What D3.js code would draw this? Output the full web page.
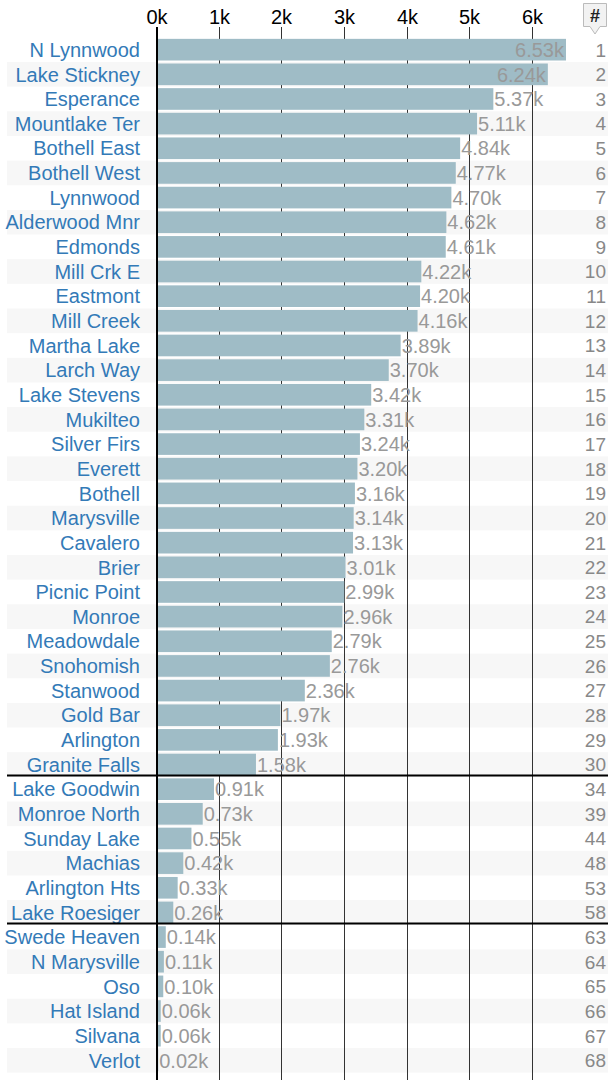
<!DOCTYPE html>
<html>
<head>
<meta charset="utf-8">
<script src="https://cdn.jsdelivr.net/npm/d3@7"></script>
<style>
  body { margin: 0; background: #fff; }
  text { font-family: "Liberation Sans", Arial, sans-serif; }
</style>
</head>
<body>
<div id="chart"></div>
<script>
// places, ranks and values (thousands)
var names = ["N Lynnwood", "Lake Stickney", "Esperance", "Mountlake Ter", "Bothell East",
  "Bothell West", "Lynnwood", "Alderwood Mnr", "Edmonds", "Mill Crk E", "Eastmont",
  "Mill Creek", "Martha Lake", "Larch Way", "Lake Stevens", "Mukilteo", "Silver Firs",
  "Everett", "Bothell", "Marysville", "Cavalero", "Brier", "Picnic Point", "Monroe",
  "Meadowdale", "Snohomish", "Stanwood", "Gold Bar", "Arlington", "Granite Falls",
  "Lake Goodwin", "Monroe North", "Sunday Lake", "Machias", "Arlington Hts", "Lake Roesiger",
  "Swede Heaven", "N Marysville", "Oso", "Hat Island", "Silvana", "Verlot"];
var ranks = [1, 2, 3, 4, 5, 6, 7, 8, 9, 10, 11, 12, 13, 14, 15, 16, 17, 18, 19, 20,
  21, 22, 23, 24, 25, 26, 27, 28, 29, 30, 34, 39, 44, 48, 53, 58, 63, 64, 65, 66, 67, 68];
var values = [6.53, 6.24, 5.37, 5.11, 4.84, 4.77, 4.70, 4.62, 4.61, 4.22, 4.20, 4.16,
  3.89, 3.70, 3.42, 3.31, 3.24, 3.20, 3.16, 3.14, 3.13, 3.01, 2.99, 2.96, 2.79, 2.76,
  2.36, 1.97, 1.93, 1.58, 0.91, 0.73, 0.55, 0.42, 0.33, 0.26, 0.14, 0.11, 0.10, 0.06,
  0.06, 0.02];
var tickValues = [0, 1, 2, 3, 4, 5, 6];
// rows after which a break line is drawn
var breakAfter = ["Granite Falls", "Lake Roesiger"];

var svgWidth = 608;
var svgHeight = 1080;

var data = names.map(function(n, i) {
  return { name: n, rank: ranks[i], value: values[i], idx: i };
});

var svg = d3.select("#chart")
  .append("svg")
  .attr("width", svgWidth)
  .attr("height", svgHeight);

var rowTop = 37.35;
var rowH = 24.65;

var x = d3.scaleLinear()
  .domain([0, 6.53])
  .range([157, 566]);

var y = d3.scaleBand()
  .domain(names)
  .range([rowTop, rowTop + rowH * names.length])
  .padding(0);

// zebra stripes
svg.append("g").selectAll("rect")
  .data(data.filter(d => d.idx % 2 === 1))
  .enter()
  .append("rect")
  .attr("x", 7)
  .attr("y", d => y(d.name))
  .attr("width", svgWidth - 7)
  .attr("height", y.bandwidth())
  .attr("fill", "#f7f7f7");

// grid lines + top axis labels
var axis = d3.axisTop(x)
  .tickValues(tickValues)
  .tickFormat(d => d + "k")
  .tickSize(-(svgHeight - 27))
  .tickPadding(5);

var axisG = svg.append("g")
  .attr("transform", "translate(0,27)")
  .call(axis);

axisG.select(".domain").remove();
// snap grid lines to whole pixels so they stay crisp
axisG.selectAll(".tick")
  .attr("transform", d => d === 0 ? "translate(157,0)" : `translate(${Math.round(x(d)) - 0.5},0)`);
axisG.selectAll(".tick line")
  .attr("stroke", d => d === 0 ? "#000" : "#333")
  .attr("stroke-width", d => d === 0 ? 2 : 1);
axisG.selectAll(".tick text")
  .attr("fill", "#000")
  .attr("font-size", "20px")
  .attr("dy", "0.1em");

// bars
svg.append("g").selectAll("rect")
  .data(data)
  .enter()
  .append("rect")
  .attr("x", x(0) + 1)
  .attr("y", d => y(d.name) + 1.5)
  .attr("width", d => Math.max(0, x(d.value) - x(0) - 1))
  .attr("height", y.bandwidth() - 3)
  .attr("fill", "#9fbcc6");

// value labels
svg.append("g").selectAll("text")
  .data(data)
  .enter()
  .append("text")
  .attr("x", d => x(d.value) + 50 > 575 ? x(d.value) - 2 : x(d.value) + 1)
  .attr("y", d => y(d.name) + y.bandwidth() / 2)
  .attr("dy", "0.36em")
  .attr("text-anchor", d => x(d.value) + 50 > 575 ? "end" : "start")
  .attr("font-size", "20px")
  .attr("fill", "#999")
  .text(d => d.value.toFixed(2) + "k");

// place names
svg.append("g").selectAll("text")
  .data(data)
  .enter()
  .append("text")
  .attr("x", 140)
  .attr("y", d => y(d.name) + y.bandwidth() / 2)
  .attr("dy", "0.36em")
  .attr("text-anchor", "end")
  .attr("font-size", "20px")
  .attr("fill", "#337ab7")
  .text(d => d.name);

// ranks
svg.append("g").selectAll("text")
  .data(data)
  .enter()
  .append("text")
  .attr("x", 606)
  .attr("y", d => y(d.name) + y.bandwidth() / 2)
  .attr("dy", "0.36em")
  .attr("text-anchor", "end")
  .attr("font-size", "19px")
  .attr("fill", "#888")
  .text(d => d.rank);

// break lines
svg.append("g").selectAll("line")
  .data(breakAfter)
  .enter()
  .append("line")
  .attr("x1", 7)
  .attr("x2", svgWidth)
  .attr("y1", d => Math.round(y(d) + y.bandwidth()) - 1.5)
  .attr("y2", d => Math.round(y(d) + y.bandwidth()) - 1.5)
  .attr("stroke", "#000")
  .attr("stroke-width", 2);

// "#" header badge
var badge = svg.append("g");
badge.append("path")
  .attr("d", "M583.5,3.5 H606.5 V26.5 H600 L595,34 L590,26.5 H583.5 Z")
  .attr("fill", "#f2f2f2")
  .attr("stroke", "#bbb")
  .attr("stroke-width", 1);
badge.append("text")
  .attr("x", 595)
  .attr("y", 22)
  .attr("text-anchor", "middle")
  .attr("font-size", "18px")
  .attr("font-weight", "bold")
  .attr("fill", "#222")
  .text("#");
</script>
</body>
</html>
